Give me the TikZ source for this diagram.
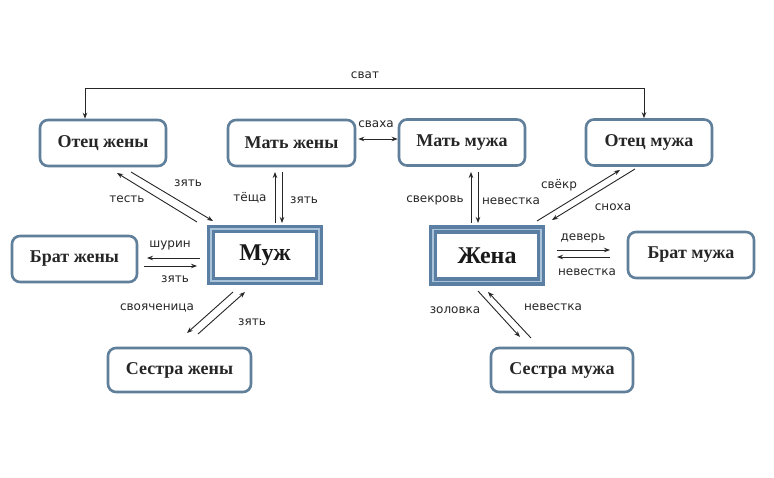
\documentclass[tikz,border=0pt]{standalone}
\usepackage{fontspec}
\setmainfont{Liberation Serif}
\newfontfamily\labfont{DejaVu Sans}
\usetikzlibrary{arrows.meta}
\definecolor{bord}{HTML}{5F7F9A}
\definecolor{dbord}{HTML}{5A7FA3}
\definecolor{lbord}{HTML}{A9C3DA}
\tikzset{
  x=1pt,y=-1pt,
  rbox/.style={draw=bord,line width=2.6pt,rounded corners=8pt,fill=white,inner sep=0pt,font=\bfseries\fontsize{18}{20}\selectfont,text=black!85},
  dbox/.style={draw=dbord,line width=3.5pt,fill=white,inner sep=0pt,font=\bfseries\fontsize{24}{28}\selectfont,text=black!90,
    double=lbord,double distance=1.6pt},
  arr/.style={-{Stealth[length=6pt,width=4.5pt]},line width=0.9pt,black!85},
  darr/.style={{Stealth[length=6pt,width=4.5pt]}-{Stealth[length=6pt,width=4.5pt]},line width=0.9pt,black!85},
  lab/.style={font=\labfont\fontsize{12}{14}\selectfont,inner sep=0pt,text=black!85},
}
\begin{document}
\begin{tikzpicture}
\useasboundingbox (0,0) rectangle (774,478);
\fill[white] (0,0) rectangle (774,478);
% boxes
\node[rbox,minimum width=126pt,minimum height=46pt] (oz) at (103,143) {Отец жены};
\node[rbox,minimum width=127pt,minimum height=46pt] (mz) at (291.5,143) {Мать жены};
\node[rbox,minimum width=126pt,minimum height=46pt] (mm) at (462,142.5) {Мать мужа};
\node[rbox,minimum width=126pt,minimum height=46pt] (om) at (649,142.5) {Отец мужа};
\node[rbox,minimum width=125pt,minimum height=46pt] (bz) at (74.5,259) {Брат жены};
\node[rbox,minimum width=143pt,minimum height=44pt] (sz) at (179.5,370) {Сестра жены};
\node[rbox,minimum width=126pt,minimum height=46pt] (bm) at (691,255) {Брат мужа};
\node[rbox,minimum width=142pt,minimum height=44pt] (sm) at (562,370) {Сестра мужа};
\node[dbox,minimum width=108pt,minimum height=52pt] (muzh) at (265,255) {Муж};
\node[dbox,minimum width=108pt,minimum height=52pt] (zhena) at (487,255.5) {Жена};
% сват
\coordinate (s1) at (85,88);
\coordinate (s2) at (644,88);
\draw[arr] (s2) -- (s1) -- (s1 |- oz.north);
\draw[arr] (s1) -- (s2) -- (s2 |- om.north);
\node[lab] (lsvat) at (365,75) {сват};
% сваха
\draw[darr] (mz.east) ++(2,-4) coordinate (sv1) -- (sv1 -| mm.west) coordinate[pos=1] (sv2);
\node[lab] (lsvaha) at (376,124) {сваха};
% Отец жены - Муж
\draw[arr] (197,222) -- (117,173);
\draw[arr] (131,172) -- (213,221);
\node[lab] (l1) at (188,183) {зять};
\node[lab] (l2) at (127,199) {тесть};
% Мать жены - Муж
\draw[arr] (275,223) -- (275,172);
\draw[arr] (282,172) -- (282,223);
\node[lab] (l3) at (250,198) {тёща};
\node[lab] (l4) at (304,200) {зять};
% Брат жены - Муж
\draw[arr] (200,258) -- (147,258);
\draw[arr] (144,266) -- (197,266);
\node[lab] (l5) at (170,245) {шурин};
\node[lab] (l6) at (175,279) {зять};
% Сестра жены - Муж
\draw[arr] (233,292) -- (187,333);
\draw[arr] (198,334) -- (245,292);
\node[lab] (l7) at (157,308) {свояченица};
\node[lab] (l8) at (252,322) {зять};
% Мать мужа - Жена
\draw[arr] (471,223) -- (471,172);
\draw[arr] (478,172) -- (478,223);
\node[lab] (l9) at (435,200) {свекровь};
\node[lab] (l10) at (511,201) {невестка};
% Отец мужа - Жена
\draw[arr] (537,221) -- (620,170);
\draw[arr] (635,169) -- (552,220);
\node[lab] (l11) at (559,185) {свёкр};
\node[lab] (l12) at (613,207) {сноха};
% Жена - Брат мужа
\draw[arr] (557,250) -- (610,250);
\draw[arr] (610,257) -- (557,257);
\node[lab] (l13) at (583,238) {деверь};
\node[lab] (l14) at (587,272) {невестка};
% Сестра мужа - Жена
\draw[arr] (478,291) -- (520,337);
\draw[arr] (531,338) -- (488,292);
\node[lab] (l15) at (455,310) {золовка};
\node[lab] (l16) at (553,307) {невестка};
\end{tikzpicture}
\end{document}
